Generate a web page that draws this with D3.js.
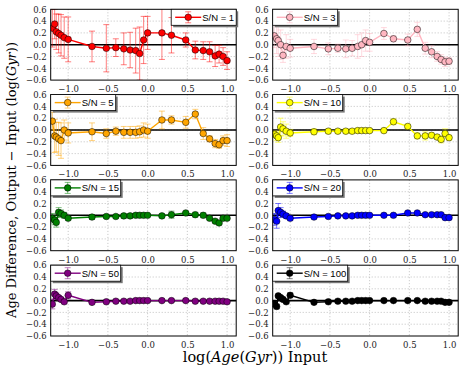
<!DOCTYPE html>
<html>
<head>
<meta charset="utf-8">
<script src="https://cdn.jsdelivr.net/npm/d3@7"></script>
<style>
  body { margin: 0; background: #fff; }
  svg { display: block; }
  .tick text { font-family: 'DejaVu Serif', serif; font-size: 8.5px; fill: #222; }
</style>
</head>
<body>
<svg id="chart" width="463" height="375"></svg>
<script>
// input log ages shared by all panels
var ages = [-1.2, -1.17, -1.15, -1.12, -1.09, -1.05, -1.0, -0.7, -0.52, -0.4, -0.3, -0.22, -0.15, -0.1, -0.05, 0.0, 0.18, 0.3, 0.48, 0.6, 0.7, 0.78, 0.85, 0.9, 0.95, 1.0]

var labels = ['S/N = 1', 'S/N = 3', 'S/N = 5', 'S/N = 10', 'S/N = 15', 'S/N = 20', 'S/N = 50', 'S/N = 100']
var colors = ['#ff0000', '#ffb6c1', '#ffa500', '#ffff00', '#008000', '#0000ff', '#800080', '#000000']

// age difference (output - input)
var diff1 = [0.28, 0.35, 0.22, 0.19, 0.16, 0.12, 0.09, -0.03, -0.06, -0.05, -0.07, -0.09, -0.1, -0.15, 0.08, 0.2, 0.2, 0.16, 0.08, -0.09, -0.1, -0.12, -0.19, -0.16, -0.2, -0.27]
var diff3 = [0.15, 0.1, 0.07, 0.0, -0.18, -0.03, -0.06, -0.03, -0.07, -0.06, -0.07, -0.06, -0.03, 0.0, 0.07, 0.04, 0.19, 0.1, 0.08, 0.26, -0.06, -0.12, -0.2, -0.25, -0.29, -0.28]
var diff5 = [0.15, -0.1, -0.12, -0.15, -0.18, 0.0, -0.05, -0.03, -0.06, -0.02, -0.04, -0.04, -0.04, -0.03, 0.0, -0.02, 0.17, 0.17, 0.13, 0.27, -0.06, -0.15, -0.23, -0.25, -0.18, -0.18]
var diff10 = [-0.07, -0.1, -0.13, 0.05, 0.02, -0.02, -0.05, -0.03, -0.02, -0.02, -0.02, -0.02, -0.01, -0.01, -0.01, -0.01, -0.01, 0.14, 0.06, -0.1, -0.1, -0.09, -0.12, -0.16, -0.06, -0.13]
var diff15 = [-0.05, -0.08, -0.12, 0.05, 0.03, 0.0, -0.05, -0.03, -0.02, -0.02, -0.01, -0.01, 0.0, 0.0, 0.0, 0.0, -0.01, 0.01, 0.04, 0.01, 0.0, -0.05, -0.1, -0.13, -0.05, -0.05]
var diff20 = [-0.07, -0.1, 0.08, 0.05, 0.02, -0.01, -0.05, -0.03, -0.02, -0.01, -0.01, -0.01, 0.0, 0.0, 0.0, 0.0, 0.0, 0.0, 0.04, 0.04, 0.01, 0.01, 0.01, 0.01, -0.04, -0.04]
var diff50 = [-0.06, 0.11, 0.08, 0.05, 0.02, -0.02, 0.09, -0.03, -0.02, -0.01, -0.01, -0.01, 0.0, 0.0, 0.0, 0.0, 0.0, 0.0, 0.0, -0.01, -0.01, -0.01, -0.01, -0.01, -0.01, -0.02]
var diff100 = [-0.06, -0.1, 0.08, 0.05, 0.02, -0.02, 0.09, -0.03, -0.02, -0.01, -0.01, -0.01, 0.0, 0.0, 0.0, 0.0, 0.0, 0.0, 0.0, 0.0, -0.01, -0.01, -0.01, -0.01, -0.03, -0.03]

// error bars (half length)
var err1 = [0.32, 0.25, 0.3, 0.33, 0.35, 0.35, 0.38, 0.26, 0.4, 0.15, 0.27, 0.3, 0.38, 0.45, 0.4, 0.28, 0.45, 0.3, 0.12, 0.15, 0.15, 0.17, 0.18, 0.15, 0.15, 0.15]
var err3 = [0.2, 0.25, 0.27, 0.25, 0.12, 0.2, 0.15, 0.12, 0.1, 0.07, 0.15, 0.13, 0.2, 0.2, 0.18, 0.15, 0.1, 0.05, 0.1, 0.12, 0.1, 0.1, 0.08, 0.08, 0.08, 0.06]
var err5 = [0.15, 0.28, 0.25, 0.28, 0.3, 0.17, 0.17, 0.15, 0.08, 0.07, 0.1, 0.1, 0.1, 0.1, 0.12, 0.12, 0.15, 0.07, 0.1, 0.08, 0.1, 0.05, 0.07, 0.06, 0.08, 0.1]
var err10 = [0.05, 0.08, 0.08, 0.15, 0.12, 0.12, 0.06, 0.05, 0.04, 0.03, 0.04, 0.04, 0.04, 0.03, 0.03, 0.03, 0.04, 0.05, 0.04, 0.05, 0.07, 0.04, 0.04, 0.06, 0.08, 0.04]
var err15 = [0.08, 0.08, 0.08, 0.08, 0.06, 0.05, 0.03, 0.04, 0.02, 0.02, 0.04, 0.04, 0.02, 0.02, 0.02, 0.02, 0.03, 0.06, 0.02, 0.04, 0.04, 0.02, 0.02, 0.03, 0.03, 0.02]
var err20 = [0.1, 0.12, 0.12, 0.08, 0.05, 0.04, 0.04, 0.02, 0.02, 0.01, 0.01, 0.01, 0.01, 0.01, 0.01, 0.01, 0.01, 0.03, 0.01, 0.01, 0.01, 0.01, 0.01, 0.01, 0.02, 0.02]
var err50 = [0.08, 0.08, 0.05, 0.03, 0.03, 0.02, 0.06, 0.01, 0.01, 0.01, 0.01, 0.01, 0.01, 0.01, 0.01, 0.01, 0.01, 0.01, 0.01, 0.01, 0.01, 0.01, 0.02, 0.01, 0.01, 0.01]
var err100 = [0.04, 0.04, 0.02, 0.02, 0.02, 0.02, 0.04, 0.01, 0.01, 0.01, 0.01, 0.01, 0.01, 0.01, 0.01, 0.01, 0.01, 0.01, 0.01, 0.01, 0.01, 0.01, 0.01, 0.01, 0.01, 0.01]

var xTicks = [-1.0, -0.5, 0.0, 0.5, 1.0]
var yTicks = [-0.6, -0.4, -0.2, 0.0, 0.2, 0.4, 0.6]

var diffs = [diff1, diff3, diff5, diff10, diff15, diff20, diff50, diff100]
var errs = [err1, err3, err5, err10, err15, err20, err50, err100]

var svg = d3.select('#chart')
var colX = [50.7, 272.7]
var panelW = 185.5
var panelH = 70.8
var rowY = function (r) { return 9.3 + r * 85.3 }

var x = d3.scaleLinear().domain([-1.22, 1.115]).range([0, panelW])
var y = d3.scaleLinear().domain([-0.6, 0.6]).range([panelH, 0])
var fmt = function (d) { return d3.format('.1f')(d).replace('-', '\u2212') }

var line = d3.line()
  .x((d) => x(d.x))
  .y((d) => y(d.y))

diffs.forEach(function (vals, i) {
  var col = i % 2
  var row = Math.floor(i / 2)
  var color = colors[i]
  var g = svg.append('g')
    .attr('transform', 'translate(' + colX[col] + ',' + rowY(row) + ')')

  var pts = ages.map(function (a, k) { return {x: a, y: vals[k], e: errs[i][k]} })

  // grid
  g.selectAll('.gx').data(xTicks).enter().append('line')
    .attr('x1', (d) => x(d)).attr('x2', (d) => x(d))
    .attr('y1', 0).attr('y2', panelH)
    .attr('stroke', '#999').attr('stroke-width', 0.6).attr('stroke-dasharray', '1,2')
  g.selectAll('.gy').data(yTicks.slice(1, -1)).enter().append('line')
    .attr('y1', (d) => y(d)).attr('y2', (d) => y(d))
    .attr('x1', 0).attr('x2', panelW)
    .attr('stroke', '#999').attr('stroke-width', 0.6).attr('stroke-dasharray', '1,2')

  // zero line
  g.append('line')
    .attr('x1', 0).attr('x2', panelW)
    .attr('y1', y(0)).attr('y2', y(0))
    .attr('stroke', '#000').attr('stroke-width', 1.6)

  // axes
  var xa = g.append('g')
    .attr('transform', 'translate(0,' + panelH + ')')
    .call(d3.axisBottom(x).tickValues(xTicks).tickFormat(fmt).tickSize(0).tickPadding(6))
  xa.select('.domain').remove()
  var ya = g.append('g')
    .call(d3.axisLeft(y).tickValues(yTicks).tickFormat(fmt).tickSize(0).tickPadding(4))
  ya.select('.domain').remove()

  var clip = 'clip' + i
  g.append('clipPath').attr('id', clip)
    .append('rect').attr('width', panelW).attr('height', panelH)
  var plot = g.append('g').attr('clip-path', 'url(#' + clip + ')')

  // error bars
  var eb = plot.append('g')
    .attr('stroke', color).attr('stroke-opacity', 0.5).attr('stroke-width', 1)
  pts.forEach(function (p) {
    var cx = x(p.x)
    eb.append('line').attr('x1', cx).attr('x2', cx)
      .attr('y1', y(p.y - p.e)).attr('y2', y(p.y + p.e))
    eb.append('line').attr('x1', cx - 3).attr('x2', cx + 3)
      .attr('y1', y(p.y - p.e)).attr('y2', y(p.y - p.e))
    eb.append('line').attr('x1', cx - 3).attr('x2', cx + 3)
      .attr('y1', y(p.y + p.e)).attr('y2', y(p.y + p.e))
  })

  plot.append('path')
    .datum(pts)
    .attr('fill', 'none')
    .attr('stroke', color)
    .attr('stroke-width', 1.4)
    .attr('stroke-linejoin', 'round')
    .attr('d', line)

  plot.selectAll('circle').data(pts).enter().append('circle')
    .attr('cx', (d) => x(d.x)).attr('cy', (d) => y(d.y))
    .attr('r', 3.3)
    .attr('fill', color)
    .attr('stroke', '#000').attr('stroke-width', 0.5)

  // frame
  g.append('rect')
    .attr('width', panelW).attr('height', panelH)
    .attr('fill', 'none').attr('stroke', '#000').attr('stroke-width', 1)

  // legend
  var lw = labels[i].length === 7 ? 65 : (labels[i].length === 8 ? 70 : 75)
  var lx = i === 0 ? panelW - lw : 0
  var leg = g.append('g').attr('transform', 'translate(' + lx + ',0)')
  leg.append('rect').attr('x', 2).attr('y', 2).attr('width', lw).attr('height', 16)
    .attr('fill', '#777')
  leg.append('rect').attr('width', lw).attr('height', 16)
    .attr('fill', '#fff').attr('stroke', '#000').attr('stroke-width', 0.8)
  var mx = 17
  leg.append('line').attr('x1', 4).attr('x2', 30).attr('y1', 8).attr('y2', 8)
    .attr('stroke', color).attr('stroke-width', 1.4)
  leg.append('line').attr('x1', mx).attr('x2', mx).attr('y1', 2.5).attr('y2', 13.5)
    .attr('stroke', color).attr('stroke-opacity', 0.5)
  leg.append('line').attr('x1', mx - 3).attr('x2', mx + 3).attr('y1', 2.5).attr('y2', 2.5)
    .attr('stroke', color).attr('stroke-opacity', 0.5)
  leg.append('line').attr('x1', mx - 3).attr('x2', mx + 3).attr('y1', 13.5).attr('y2', 13.5)
    .attr('stroke', color).attr('stroke-opacity', 0.5)
  leg.append('circle').attr('cx', mx).attr('cy', 8).attr('r', 3.3)
    .attr('fill', color).attr('stroke', '#000').attr('stroke-width', 0.5)
  leg.append('text').attr('x', 31).attr('y', 11.5)
    .attr('font-family', 'Liberation Sans, Arial, sans-serif').attr('font-size', 9.5)
    .text(labels[i])
})

// axis titles
var xl = svg.append('text')
  .attr('x', 255).attr('y', 362)
  .attr('text-anchor', 'middle')
  .attr('font-family', 'DejaVu Serif, serif').attr('font-size', 14.5)
xl.append('tspan').text('log(')
xl.append('tspan').attr('font-style', 'italic').text('Age')
xl.append('tspan').text('(')
xl.append('tspan').attr('font-style', 'italic').text('Gyr')
xl.append('tspan').text(')) Input')

var yl = svg.append('text')
  .attr('transform', 'translate(16,180) rotate(-90)')
  .attr('text-anchor', 'middle')
  .attr('font-family', 'DejaVu Serif, serif').attr('font-size', 13)
yl.append('tspan').text('Age Difference, Output \u2212 Input (log(')
yl.append('tspan').attr('font-style', 'italic').text('Gyr')
yl.append('tspan').text('))')
</script>
</body>
</html>
